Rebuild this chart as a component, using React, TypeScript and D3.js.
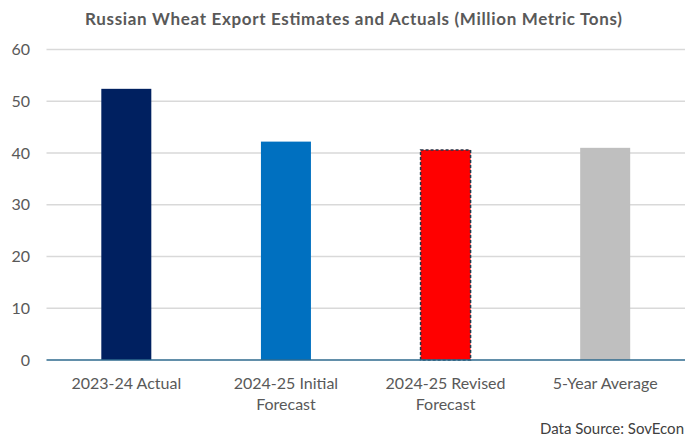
import React from "react";
import * as d3 from "d3";

const categories: string[][] = [
  ["2023-24 Actual"],
  ["2024-25 Initial", "Forecast"],
  ["2024-25 Revised", "Forecast"],
  ["5-Year Average"],
];
const values: number[] = [52.4, 42.2, 40.6, 41.0];
const colors: string[] = ["#002060", "#0070C0", "#FF0000", "#BFBFBF"];
const yTicks: number[] = [0, 10, 20, 30, 40, 50, 60];
const title = "Russian Wheat Export Estimates and Actuals (Million Metric Tons)";
const source = "Data Source: SovEcon";

export default function App() {
  const W = 692, H = 441;
  const left = 46.5, right = 685, top = 49.5, bottom = 360;
  const x = d3.scaleBand<number>().domain(categories.map((_, i) => i)).range([left, right]).paddingInner(0).paddingOuter(0);
  const y = d3.scaleLinear().domain([0, 60]).range([bottom, top]);
  const barW = 50;
  const font = "Lato, 'Open Sans', sans-serif";
  const txt = "#595959";
  return (
    <svg width={W} height={H} style={{ position: "absolute", left: 0, top: 0, background: "#fff" }} fontFamily={font}>
      <text x={85} y={25} fontSize={17} fontWeight="bold" fill={txt} textLength={537} lengthAdjust="spacing">{title}</text>
      {yTicks.map((t) => (
        <g key={t}>
          {t !== 0 && <line x1={left} x2={right} y1={y(t)} y2={y(t)} stroke="#D9D9D9" strokeWidth={1.5} />}
          <text x={30} y={y(t)} dy="0.35em" textAnchor="end" fontSize={16} fill={txt}>{t}</text>
        </g>
      ))}
      {values.map((v, i) => {
        const cx = (x(i) as number) + x.bandwidth() / 2;
        const dashed = i === 2;
        return (
          <rect key={i} x={cx - barW / 2} y={y(v)} width={barW} height={y(0) - y(v)} fill={colors[i]}
            stroke={dashed ? "#1F3B4D" : "none"} strokeWidth={dashed ? 1.5 : 0} strokeDasharray={dashed ? "3,2" : undefined} />
        );
      })}
      <line x1={left} x2={right} y1={y(0)} y2={y(0)} stroke="#2E6A8E" strokeWidth={1.5} />
      {categories.map((lines, i) => {
        const cx = (x(i) as number) + x.bandwidth() / 2;
        return (
          <text key={i} x={cx} y={389} textAnchor="middle" fontSize={16} fill={txt}>
            {lines.map((l, j) => (
              <tspan key={j} x={cx} dy={j === 0 ? 0 : 21}>{l}</tspan>
            ))}
          </text>
        );
      })}
      <text x={684} y={434} textAnchor="end" fontSize={15} fill="#404040">{source}</text>
    </svg>
  );
}
